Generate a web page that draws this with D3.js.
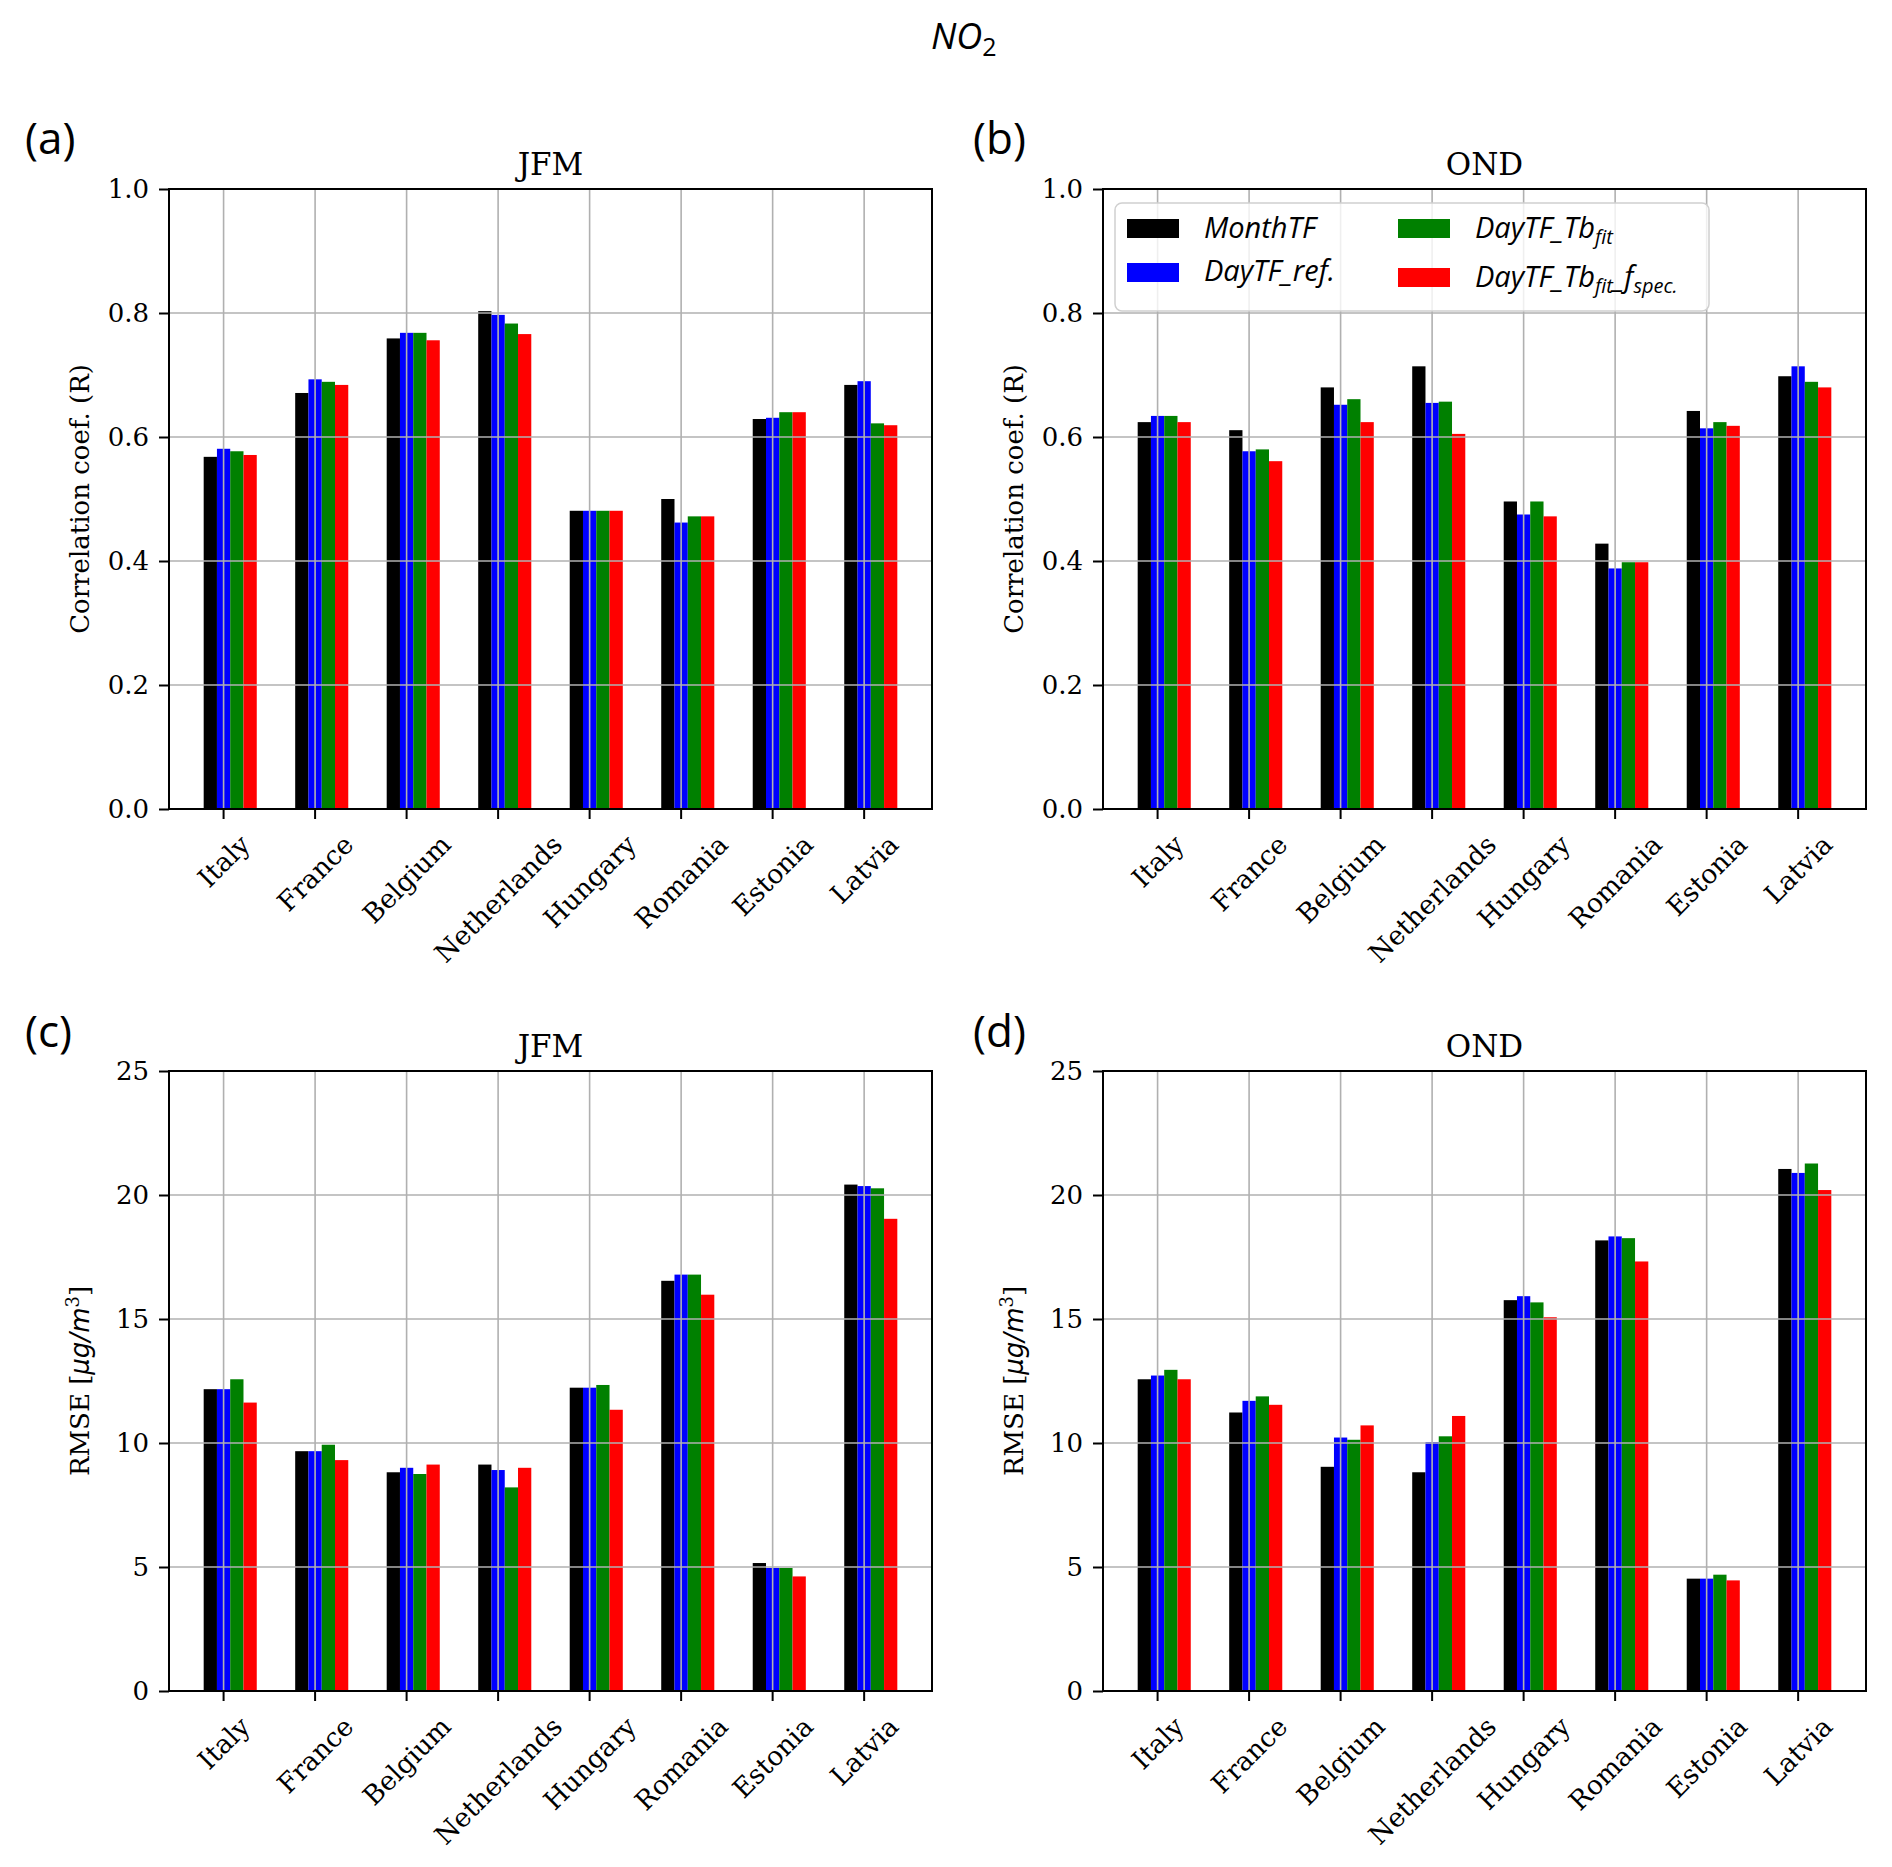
<!DOCTYPE html>
<html>
<head>
<meta charset="utf-8">
<script src="https://d3js.org/d3.v7.min.js"></script>
<style>
body { margin: 0; background: #fff; }
svg text { font-family: "DejaVu Serif", serif; fill: #000; }
</style>
</head>
<body>
<svg id="chart" width="1892" height="1867"></svg>
<script>
'use strict';

// ---- data ----
var countries = ["Italy", "France", "Belgium", "Netherlands", "Hungary", "Romania", "Estonia", "Latvia"];
var seriesColors = ["#000000", "#0000ff", "#008000", "#ff0000"];

var corrJFM_month = [0.568, 0.671, 0.759, 0.803, 0.481, 0.500, 0.629, 0.684];
var corrJFM_ref   = [0.581, 0.693, 0.768, 0.797, 0.481, 0.462, 0.631, 0.690];
var corrJFM_fit   = [0.577, 0.689, 0.768, 0.783, 0.481, 0.472, 0.640, 0.622];
var corrJFM_spec  = [0.571, 0.684, 0.756, 0.766, 0.481, 0.472, 0.640, 0.619];

var corrOND_month = [0.624, 0.611, 0.680, 0.714, 0.496, 0.428, 0.642, 0.698];
var corrOND_ref   = [0.634, 0.577, 0.652, 0.655, 0.475, 0.388, 0.614, 0.714];
var corrOND_fit   = [0.634, 0.580, 0.661, 0.657, 0.496, 0.398, 0.624, 0.689];
var corrOND_spec  = [0.624, 0.561, 0.624, 0.605, 0.472, 0.398, 0.618, 0.680];

var rmseJFM_month = [12.17, 9.67, 8.82, 9.13, 12.23, 16.54, 5.16, 20.42];
var rmseJFM_ref   = [12.17, 9.67, 9.00, 8.91, 12.23, 16.79, 4.96, 20.36];
var rmseJFM_fit   = [12.57, 9.93, 8.75, 8.21, 12.34, 16.79, 4.96, 20.27];
var rmseJFM_spec  = [11.63, 9.31, 9.13, 9.00, 11.34, 15.98, 4.62, 19.04];

var rmseOND_month = [12.57, 11.23, 9.04, 8.82, 15.76, 18.17, 4.53, 21.05];
var rmseOND_ref   = [12.72, 11.70, 10.22, 10.04, 15.92, 18.33, 4.53, 20.89];
var rmseOND_fit   = [12.95, 11.88, 10.13, 10.27, 15.67, 18.26, 4.69, 21.27];
var rmseOND_spec  = [12.57, 11.54, 10.71, 11.09, 15.07, 17.32, 4.46, 20.20];

var corrTicks = [0, 0.2, 0.4, 0.6, 0.8, 1.0];
var rmseTicks = [0, 5, 10, 15, 20, 25];

var svg = d3.select("#chart");
var barW = 0.145;
var offsets = [-1, 0, 1, 2];

function renderPanel(opts) {
    var n = countries.length;
    var lo = -1.5 * barW, hi = n - 1 + 2.5 * barW;
    var m = 0.05 * (hi - lo);
    var x = d3.scaleLinear().domain([lo - m, hi + m]).range([opts.left, opts.right]);
    var y = d3.scaleLinear().domain(opts.yDomain).range([opts.bottom, opts.top]);
    var g = svg.append("g").attr("class", "panel");

    // bars
    opts.series.forEach(function(vals, s) {
        g.append("g").selectAll("rect")
            .data(vals)
            .enter().append("rect")
            .attr("x", function(d, i) { return x(i + offsets[s] * barW - barW / 2); })
            .attr("width", x(barW) - x(0))
            .attr("y", function(d) { return y(d); })
            .attr("height", function(d) { return y(0) - y(d); })
            .style("fill", seriesColors[s]);
    });

    // grid on top of bars (matplotlib default zorder)
    var grid = g.append("g").attr("class", "grid");
    grid.selectAll(".gy").data(opts.ticks).enter().append("line")
        .attr("x1", opts.left).attr("x2", opts.right)
        .attr("y1", function(d) { return y(d); }).attr("y2", function(d) { return y(d); });
    grid.selectAll(".gx").data(countries).enter().append("line")
        .attr("x1", function(d, i) { return x(i); }).attr("x2", function(d, i) { return x(i); })
        .attr("y1", opts.top).attr("y2", opts.bottom);
    grid.selectAll("line").style("stroke", "#b0b0b0").style("stroke-width", 1.6);

    // frame
    g.append("rect")
        .attr("x", opts.left).attr("y", opts.top)
        .attr("width", opts.right - opts.left).attr("height", opts.bottom - opts.top)
        .style("fill", "none").style("stroke", "#000").style("stroke-width", 2);

    // y axis
    var yAxis = g.append("g")
        .attr("transform", "translate(" + opts.left + ",0)")
        .call(d3.axisLeft(y).tickValues(opts.ticks).tickSize(10).tickPadding(10).tickFormat(opts.fmt));
    yAxis.select(".domain").remove();
    yAxis.selectAll("line").style("stroke", "#000").style("stroke-width", 2);
    yAxis.selectAll("text")
        .style("font-family", "DejaVu Serif")
        .style("font-size", "26px")
        .style("fill", "#000");

    // x ticks + rotated labels
    var xt = g.append("g");
    xt.selectAll("line").data(countries).enter().append("line")
        .attr("x1", function(d, i) { return x(i); }).attr("x2", function(d, i) { return x(i); })
        .attr("y1", opts.bottom).attr("y2", opts.bottom + 10)
        .style("stroke", "#000").style("stroke-width", 2);
    xt.selectAll("text").data(countries).enter().append("text")
        .attr("text-anchor", "middle")
        .attr("dominant-baseline", "central")
        .style("font-size", "26.5px")
        .text(function(d) { return d; })
        .each(function(d, i) {
            var w = this.getComputedTextLength();
            var h = 30;
            var half = (w + h) * Math.SQRT1_2 / 2;
            var cx = x(i), cy = opts.bottom + 20 + half;
            d3.select(this)
                .attr("x", cx).attr("y", cy)
                .attr("transform", "rotate(-45," + cx + "," + cy + ")");
        });

    // subplot title
    g.append("text")
        .attr("x", (opts.left + opts.right) / 2)
        .attr("y", opts.top - 14)
        .attr("text-anchor", "middle")
        .style("font-size", "31px")
        .text(opts.title);

    // y label
    var cy = (opts.top + opts.bottom) / 2;
    var yl = g.append("text")
        .attr("transform", "translate(" + (opts.left - 80) + "," + cy + ") rotate(-90)")
        .attr("text-anchor", "middle")
        .style("font-size", "26px");
    opts.ylabel(yl);

    // panel letter
    svg.append("text")
        .attr("x", opts.letterX).attr("y", opts.letterY)
        .style("font-family", "Open Sans")
        .style("font-size", "44px")
        .text(opts.letter);

    return {x: x, y: y};
}

function corrLabel(t) {
    t.text("Correlation coef. (R)");
}

function rmseLabel(t) {
    t.append("tspan").text("RMSE [");
    t.append("tspan").style("font-family", "DejaVu Sans").style("font-style", "italic").text("\u03bcg/m");
    t.append("tspan").attr("dy", -10).style("font-size", "18px").text("3");
    t.append("tspan").attr("dy", 10).text("]");
}

var fmtCorr = d3.format(".1f");
var fmtRmse = d3.format("d");

renderPanel({left: 169, right: 932, top: 189, bottom: 809, yDomain: [0, 1], ticks: corrTicks, fmt: fmtCorr,
    series: [corrJFM_month, corrJFM_ref, corrJFM_fit, corrJFM_spec], title: "JFM", ylabel: corrLabel,
    letter: "(a)", letterX: 25, letterY: 154});
renderPanel({left: 1103, right: 1866, top: 189, bottom: 809, yDomain: [0, 1], ticks: corrTicks, fmt: fmtCorr,
    series: [corrOND_month, corrOND_ref, corrOND_fit, corrOND_spec], title: "OND", ylabel: corrLabel,
    letter: "(b)", letterX: 973, letterY: 154});
renderPanel({left: 169, right: 932, top: 1071, bottom: 1691, yDomain: [0, 25], ticks: rmseTicks, fmt: fmtRmse,
    series: [rmseJFM_month, rmseJFM_ref, rmseJFM_fit, rmseJFM_spec], title: "JFM", ylabel: rmseLabel,
    letter: "(c)", letterX: 25, letterY: 1047});
renderPanel({left: 1103, right: 1866, top: 1071, bottom: 1691, yDomain: [0, 25], ticks: rmseTicks, fmt: fmtRmse,
    series: [rmseOND_month, rmseOND_ref, rmseOND_fit, rmseOND_spec], title: "OND", ylabel: rmseLabel,
    letter: "(d)", letterX: 973, letterY: 1047});

// figure title
var title = svg.append("text")
    .attr("x", 931).attr("y", 49)
    .style("font-family", "Open Sans")
    .style("font-size", "36px");
title.append("tspan").style("font-style", "italic").text("NO");
title.append("tspan").attr("dy", 7).style("font-size", "25px").text("2");

// legend (panel b)
var leg = svg.append("g");
leg.append("rect")
    .attr("x", 1115).attr("y", 203).attr("width", 594).attr("height", 108).attr("rx", 7)
    .style("fill", "#fff").style("fill-opacity", 0.8)
    .style("stroke", "#d0d0d0").style("stroke-width", 1.5);

var legendItems = [
    {c: 0, sx: 1127, sy: 219, tx: 1204, ty: 238, parts: [["MonthTF", 0]]},
    {c: 1, sx: 1127, sy: 263, tx: 1204, ty: 281, parts: [["DayTF_ref.", 0]]},
    {c: 2, sx: 1398, sy: 219, tx: 1475, ty: 238, parts: [["DayTF_Tb", 0], ["fit", 1]]},
    {c: 3, sx: 1398, sy: 268, tx: 1475, ty: 287, parts: [["DayTF_Tb", 0], ["fit", 1], ["_f", 0], ["spec.", 1]]}
];

legendItems.forEach(function(it) {
    leg.append("rect")
        .attr("x", it.sx).attr("y", it.sy).attr("width", 52).attr("height", 19)
        .style("fill", seriesColors[it.c]);
    var t = leg.append("text")
        .attr("x", it.tx).attr("y", it.ty)
        .style("font-family", "Open Sans")
        .style("font-style", "italic")
        .style("font-size", "29px");
    var low = 0;
    it.parts.forEach(function(p) {
        var target = p[1] ? 6 : 0;
        t.append("tspan")
            .attr("dy", target - low)
            .style("font-size", p[1] ? "20px" : "29px")
            .text(p[0]);
        low = target;
    });
});
</script>
</body>
</html>
